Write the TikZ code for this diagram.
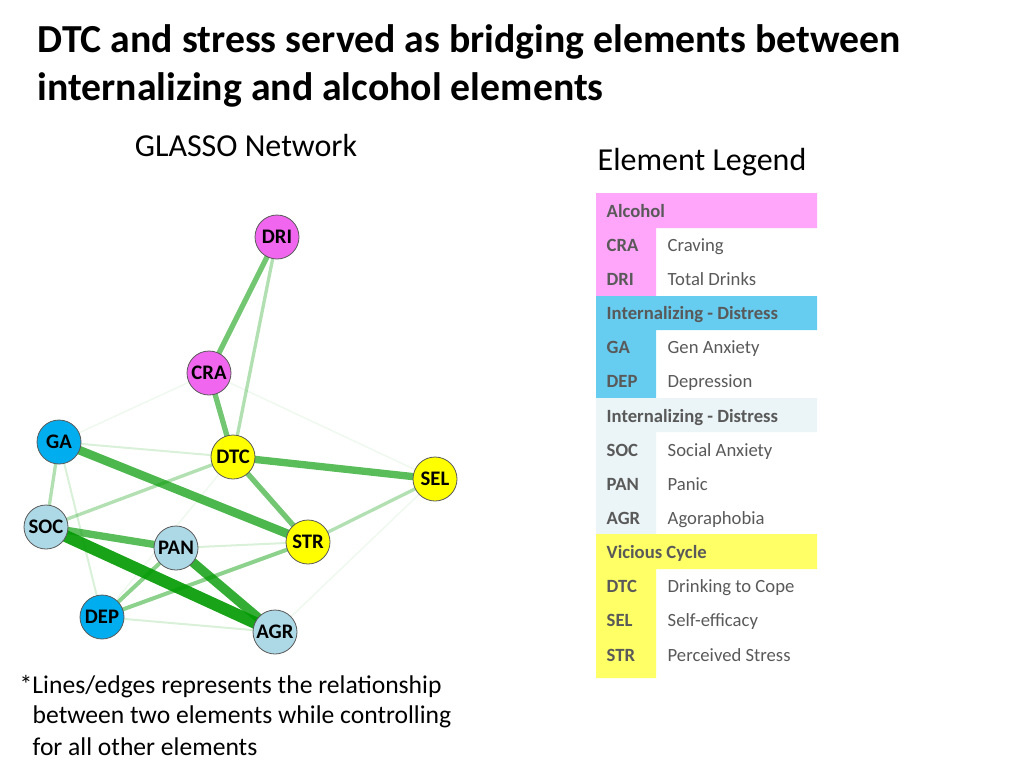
\documentclass[tikz,border=0pt]{standalone}
\usepackage{fontspec}
\setmainfont{Carlito}
\begin{document}
\begin{tikzpicture}[x=0.75pt,y=-0.75pt,
 nd/.style={circle,draw=gray!70!black,line width=0.6pt,minimum size=33pt,inner sep=0pt,font=\bfseries\fontsize{15.5}{15.5}\selectfont},
 e/.style={draw=green!60!black,line cap=round},
 lg/.style={font=\fontsize{14}{14}\selectfont,text=black!65,anchor=base west},
 lb/.style={lg,font=\bfseries\fontsize{14}{14}\selectfont}]
\useasboundingbox (0,0) rectangle (1024,768);
\definecolor{pk}{HTML}{F066EE}\definecolor{bl}{HTML}{00AEEF}\definecolor{lb}{HTML}{ADD8E6}\definecolor{yl}{HTML}{FFFF00}
\definecolor{lpk}{HTML}{FFA6FA}\definecolor{lbl}{HTML}{66CCF0}\definecolor{llb}{HTML}{EBF4F6}\definecolor{lyl}{HTML}{FFFF66}
\node[anchor=west,font=\bfseries\fontsize{29.8}{29.8}\selectfont] (t1) at (33,42) {DTC and stress served as bridging elements between};
\node[anchor=west,font=\bfseries\fontsize{29.8}{29.8}\selectfont] (t2) at (33,90) {internalizing and alcohol elements};
\node[font=\fontsize{24}{24}\selectfont] (gl) at (246,146) {GLASSO Network};
\node[font=\fontsize{24}{24}\selectfont] (el) at (702,162) {Element Legend};
\path (277,237) coordinate (pDRI) (209,373) coordinate (pCRA) (59,442) coordinate (pGA) (233,457) coordinate (pDTC)
 (435,479) coordinate (pSEL) (46,527) coordinate (pSOC) (176,548) coordinate (pPAN) (308,542) coordinate (pSTR)
 (102,617) coordinate (pDEP) (275,632) coordinate (pAGR);
% edges
\draw[e,opacity=0.06,line width=1.2pt] (pGA)--(pCRA) (pCRA)--(pSEL) (pSEL)--(pAGR) (pDTC)--(pDEP);
\draw[e,opacity=0.15,line width=1.5pt] (pGA)--(pDTC) (pPAN)--(pSTR) (pDEP)--(pAGR) (pGA)--(pDEP);
\draw[e,opacity=0.3,line width=2.5pt] (pGA)--(pSOC) (pSOC)--(pDTC) (pSEL)--(pSTR) (pDRI)--(pDTC);
\draw[e,opacity=0.45,line width=3pt] (pSTR)--(pDEP) (pPAN)--(pDEP);
\draw[e,opacity=0.55,line width=4pt] (pDRI)--(pCRA) (pCRA)--(pDTC) (pDTC)--(pSTR);
\draw[e,opacity=0.65,line width=5.5pt] (pDTC)--(pSEL) (pSOC)--(pPAN);
\draw[e,opacity=0.7,line width=6.5pt] (pGA)--(pSTR);
\draw[e,opacity=0.8,line width=7pt] (pPAN)--(pAGR);
\draw[e,opacity=0.9,line width=9pt] (pSOC)--(pAGR);
\node[nd,fill=pk] (DRI) at (pDRI) {DRI};
\node[nd,fill=pk] (CRA) at (pCRA) {CRA};
\node[nd,fill=bl] (GA) at (pGA) {GA};
\node[nd,fill=yl] (DTC) at (pDTC) {DTC};
\node[nd,fill=yl] (SEL) at (pSEL) {SEL};
\node[nd,fill=lb] (SOC) at (pSOC) {SOC};
\node[nd,fill=lb] (PAN) at (pPAN) {PAN};
\node[nd,fill=yl] (STR) at (pSTR) {STR};
\node[nd,fill=bl] (DEP) at (pDEP) {DEP};
\node[nd,fill=lb] (AGR) at (pAGR) {AGR};
% footnote
\node[anchor=west,font=\fontsize{19.2}{19.2}\selectfont] (f1) at (15,687) {*Lines/edges represents the relationship};
\node[anchor=west,font=\fontsize{19.2}{19.2}\selectfont] (f2) at (28,717) {between two elements while controlling};
\node[anchor=west,font=\fontsize{19.2}{19.2}\selectfont] (f3) at (28,747) {for all other elements};
% legend
\fill[lpk] (596,193) rectangle (817,228) (596,228) rectangle (656,296);
\fill[lbl] (596,296) rectangle (817,330) (596,330) rectangle (656,398);
\fill[llb] (596,398) rectangle (817,432) (596,432) rectangle (656,534);
\fill[lyl] (596,534) rectangle (817,569) (596,569) rectangle (656,678);
\node[lb] (h1) at (602,217) {Alcohol};
\node[lb] (h2) at (602,319) {Internalizing - Distress};
\node[lb] (h3) at (602,422) {Internalizing - Distress};
\node[lb] (h4) at (602,558) {Vicious Cycle};
\foreach \y/\a/\b in {251/CRA/Craving,285/DRI/Total Drinks,353/GA/Gen Anxiety,387/DEP/Depression,456/SOC/Social Anxiety,490/PAN/Panic,524/AGR/Agoraphobia,592/DTC/Drinking to Cope,626/SEL/Self-efficacy,661/STR/Perceived Stress}{
 \node[lb] at (602,\y) {\a};
 \node[lg] at (663,\y) {\b};}
\end{tikzpicture}
\end{document}
